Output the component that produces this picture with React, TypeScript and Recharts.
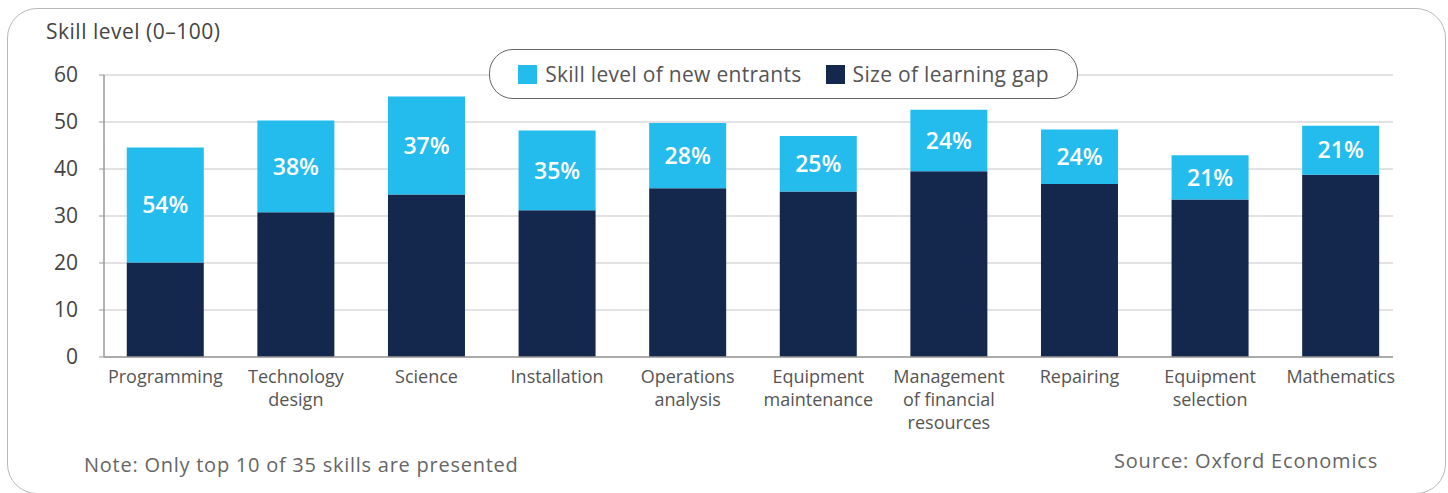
import React from 'react';
import { BarChart, Bar, XAxis, YAxis, CartesianGrid, LabelList } from 'recharts';

// skills shown, "\n" marks the line breaks of the axis labels
const skills = [
  'Programming',
  'Technology\ndesign',
  'Science',
  'Installation',
  'Operations\nanalysis',
  'Equipment\nmaintenance',
  'Management\nof financial\nresources',
  'Repairing',
  'Equipment\nselection',
  'Mathematics',
];

// dark bottom segment
const learningGap = [20.1, 30.8, 34.6, 31.2, 35.9, 35.2, 39.5, 36.8, 33.5, 38.8];
// light top segment
const newEntrants = [24.5, 19.5, 20.8, 17.0, 13.9, 11.8, 13.1, 11.6, 9.4, 10.4];
// labels printed in the light segment
const gapShare = ['54%', '38%', '37%', '35%', '28%', '25%', '24%', '24%', '21%', '21%'];

const yTicks = [0, 10, 20, 30, 40, 50, 60];

const NAVY = '#14284d';
const CYAN = '#23bced';
const FONT = '"Open Sans", sans-serif';

const data = skills.map((name, i) => ({
  name,
  gap: learningGap[i],
  entrants: newEntrants[i],
  share: gapShare[i],
}));

const SkillTick = (props: any) => {
  const { x, y, payload } = props;
  const lines = String(payload.value).split('\n');
  return (
    <text
      x={x}
      y={y}
      textAnchor="middle"
      fill="#555"
      fontSize={18}
      fontFamily={FONT}
    >
      {lines.map((l, i) => (
        <tspan key={i} x={x} dy={i === 0 ? 383 - y : 23}>
          {l}
        </tspan>
      ))}
    </text>
  );
};

export default function App() {
  return (
    <div
      style={{
        position: 'fixed',
        left: 0,
        top: 0,
        width: 1448,
        height: 493,
        background: '#fff',
        fontFamily: FONT,
        overflow: 'hidden',
      }}
    >
      {/* rounded frame */}
      <div
        style={{
          position: 'absolute',
          left: 7,
          top: 8,
          width: 1439,
          height: 486,
          border: '1.5px solid #b8b8b8',
          borderRadius: 30,
          boxSizing: 'border-box',
        }}
      />

      <div
        style={{
          position: 'absolute',
          left: 46,
          top: 17,
          fontSize: 21,
          letterSpacing: 0.5,
          color: '#444',
          whiteSpace: 'nowrap',
        }}
      >
        Skill level (0–100)
      </div>

      <div style={{ position: 'absolute', left: 0, top: 0 }}>
        <BarChart
          width={1448}
          height={493}
          data={data}
          margin={{ top: 75, right: 55, bottom: 20, left: 40 }}
          barCategoryGap="20.5%"
        >
          <CartesianGrid vertical={false} stroke="#d8d8d8" strokeWidth={1.5} />
          <XAxis
            dataKey="name"
            interval={0}
            height={116}
            tickLine={false}
            axisLine={{ stroke: '#999', strokeWidth: 1.5 }}
            tick={<SkillTick />}
            padding={{ left: -4, right: -13 }}
          />
          <YAxis
            width={64}
            domain={[0, 60]}
            ticks={yTicks}
            interval={0}
            tickSize={5}
            tickMargin={21}
            tickLine={{ stroke: '#999' }}
            axisLine={{ stroke: '#999', strokeWidth: 1.5 }}
            tick={{ fill: '#444', fontSize: 21, fontFamily: FONT }}
          />
          <Bar dataKey="gap" stackId="s" fill={NAVY} isAnimationActive={false} />
          <Bar dataKey="entrants" stackId="s" fill={CYAN} isAnimationActive={false}>
            <LabelList
              dataKey="share"
              position="center"
              fill="#fff"
              fontSize={23}
              fontWeight={600}
              fontFamily={FONT}
            />
          </Bar>
        </BarChart>
      </div>

      {/* legend */}
      <div
        style={{
          position: 'absolute',
          left: 489,
          top: 49,
          width: 589,
          height: 50,
          boxSizing: 'border-box',
          border: '1.5px solid #666',
          borderRadius: 24,
          background: '#fff',
          display: 'flex',
          alignItems: 'center',
          justifyContent: 'center',
          gap: 24,
          fontSize: 21,
          letterSpacing: 0.3,
          color: '#555',
          whiteSpace: 'nowrap',
        }}
      >
        <span style={{ display: 'flex', alignItems: 'center', gap: 8 }}>
          <span style={{ width: 19, height: 19, background: CYAN, display: 'inline-block' }} />
          Skill level of new entrants
        </span>
        <span style={{ display: 'flex', alignItems: 'center', gap: 8 }}>
          <span style={{ width: 19, height: 19, background: NAVY, display: 'inline-block' }} />
          Size of learning gap
        </span>
      </div>

      <div
        style={{
          position: 'absolute',
          left: 84,
          top: 451,
          fontSize: 20,
          letterSpacing: 0.75,
          color: '#666',
          whiteSpace: 'nowrap',
        }}
      >
        Note: Only top 10 of 35 skills are presented
      </div>
      <div
        style={{
          position: 'absolute',
          right: 70,
          top: 447,
          fontSize: 20,
          letterSpacing: 0.8,
          color: '#666',
          whiteSpace: 'nowrap',
        }}
      >
        Source: Oxford Economics
      </div>
    </div>
  );
}
